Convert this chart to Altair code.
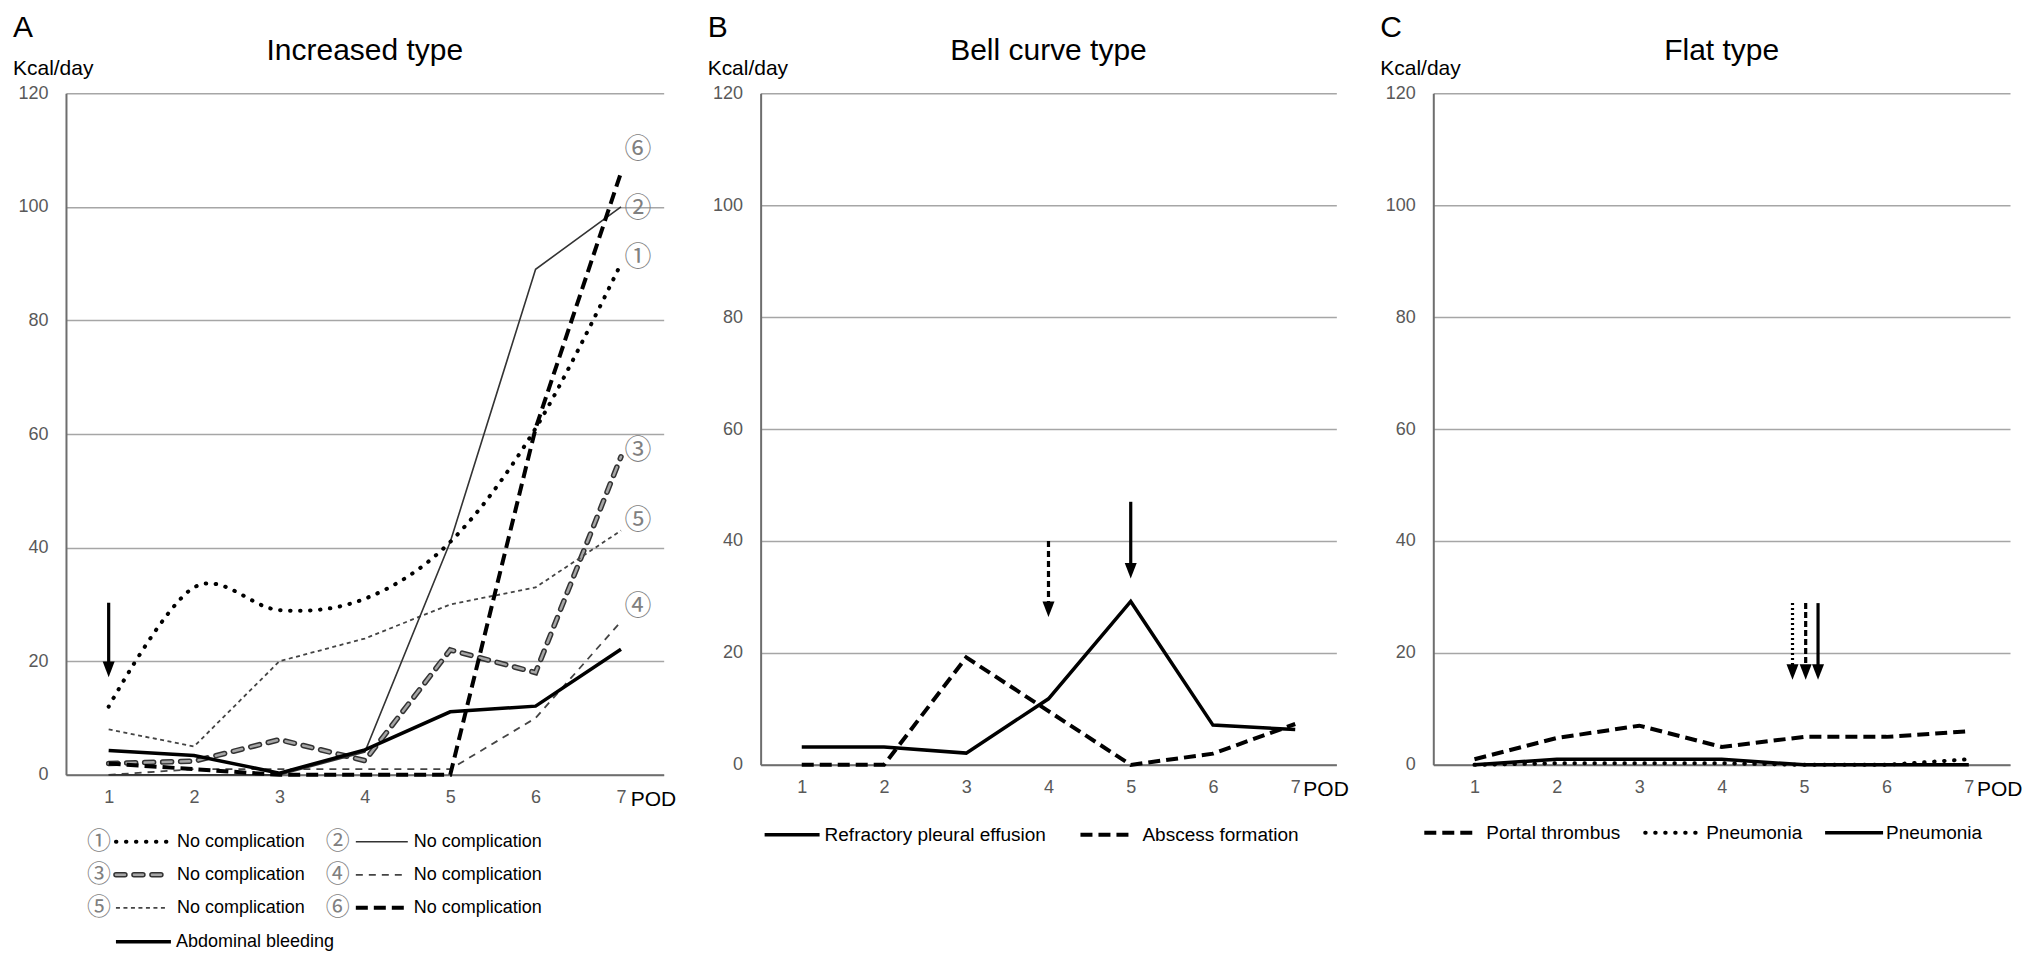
"""Post-operative calorie intake curves in three panels (increased, bell curve, flat)."""

import altair as alt
import pandas as pd


FONT = 'Liberation Sans'
CIRCLE_FONT = 'Noto Sans CJK JP'
AXIS_GREY = '#6e6e6e'
GRID_GREY = '#a6a6a6'
LABEL_GREY = '#595959'
CIRCLE_GREY = '#808080'

POD = [1, 2, 3, 4, 5, 6, 7]
Y_TICKS = [0, 20, 40, 60, 80, 100, 120]

# A - increased type
a_no1 = [12, 33, 29, 31, 41, 61, 90]
a_no2 = [0, 0, 0, 4, 41, 89, 100]
a_no3 = [2, 2.4, 6.2, 2.5, 22, 18, 56]
a_no4 = [0, 1, 1, 1, 1, 10, 27]
a_no5 = [8, 5, 20, 24, 30, 33, 43]
a_no6 = [2, 1, 0, 0, 0, 61, 106]
a_bleeding = [4.3, 3.4, 0.3, 4.4, 11.1, 12.1, 22.1]
a_circles = ['①', '②', '③', '④', '⑤', '⑥']
a_circle_y = [91, 99.6, 57, 29.6, 44.7, 110]
a_circle_x = 7.2
a_arrow_x = [1]
a_arrow_top = [30.3]
a_arrow_tip = [17.2]

# B - bell curve type
b_pleural = [3.2, 3.2, 2.1, 11.8, 29.2, 7.1, 6.3]
b_abscess = [0, 0, 19.2, 9.6, 0, 2, 7.3]
b_arrow_x = [4, 5]
b_arrow_top = [40, 47]
b_arrow_tip = [26.4, 33.3]

# C - flat type
c_portal = [1, 4.8, 7, 3.2, 5, 5, 6]
c_pneumonia_dot = [0, 0.3, 0.3, 0.3, 0, 0, 1]
c_pneumonia_solid = [0, 1, 1, 1, 0, 0, 0]
c_arrow_x = [4.86, 5.02, 5.17]
c_arrow_top = [28.9, 28.9, 28.9]
c_arrow_tip = [15.2, 15.2, 15.2]

STYLES = {
    'dot': dict(color='black', strokeWidth=4, strokeDash=[0.5, 9.5], strokeCap='round'),
    'thin': dict(color='#333333', strokeWidth=1.6),
    'grey_out': dict(color='#333333', strokeWidth=5.5, strokeDash=[9, 9], strokeCap='round'),
    'grey_in': dict(color='#a6a6a6', strokeWidth=2.5, strokeDash=[9, 9], strokeCap='round'),
    'dash': dict(color='#444444', strokeWidth=1.8, strokeDash=[7, 6]),
    'fine': dict(color='#444444', strokeWidth=1.8, strokeDash=[4, 3.5]),
    'thick_dash': dict(color='black', strokeWidth=4, strokeDash=[12, 6]),
    'solid': dict(color='black', strokeWidth=3.5),
}

ARROW_HEAD = 'M-0.5,-1.3 L0.5,-1.3 L0,0 Z'
CIRCLE_SIZE = 24


def x_enc():
    return alt.X('pod:Q', scale=alt.Scale(domain=[0.5, 7.5], nice=False, zero=False),
                 axis=alt.Axis(values=POD, format='d', grid=False, ticks=False, title=None,
                               labelFontSize=18, labelColor=LABEL_GREY, labelPadding=14,
                               labelFont=FONT, domainColor=AXIS_GREY, domainWidth=2))


def y_enc(field='kcal'):
    return alt.Y(f'{field}:Q', scale=alt.Scale(domain=[0, 120], nice=False),
                 axis=alt.Axis(values=Y_TICKS, grid=True, gridColor=GRID_GREY, gridWidth=1.5,
                               ticks=False, title=None, labelFontSize=18, labelColor=LABEL_GREY,
                               labelPadding=18, labelFont=FONT, domainColor=AXIS_GREY,
                               domainWidth=2))


def series(values, style, interpolate='linear'):
    df = pd.DataFrame({'pod': POD, 'kcal': values})
    return alt.Chart(df).mark_line(interpolate=interpolate, **STYLES[style]).encode(
        x=x_enc(), y=y_enc())


def text(label, x, y, size, align='left', font=FONT, color='black'):
    return alt.Chart(pd.DataFrame({'t': [label]})).mark_text(
        align=align, baseline='middle', fontSize=size, font=font, color=color
    ).encode(x=alt.value(x), y=alt.value(y), text='t:N')


def sample(style, x0, x1, y):
    return alt.Chart(pd.DataFrame({'t': [0]})).mark_rule(**STYLES[style]).encode(
        x=alt.value(x0), x2=alt.value(x1), y=alt.value(y))


def arrows(xs, tops, tips, dashes):
    layers = []
    for x, top, tip, dash in zip(xs, tops, tips, dashes):
        df = pd.DataFrame({'pod': [x], 'top': [top], 'tip': [tip]})
        rule_style = dict(color='black', strokeWidth=3.2)
        if dash:
            rule_style['strokeDash'] = dash
        layers.append(alt.Chart(df).mark_rule(y2Offset=-10, **rule_style).encode(
            x=x_enc(), y=y_enc('top'), y2='tip:Q'))
        layers.append(alt.Chart(df).mark_point(
            shape=ARROW_HEAD, filled=True, size=576, color='black', opacity=1
        ).encode(x=x_enc(), y=y_enc('tip')))
    return layers


def header(letter, title, width):
    return [
        text(letter, -53, -65, 30),
        text(title, width / 2, -42, 30, align='center'),
        text('Kcal/day', -53, -24, 21),
    ]


def pod_label(width, height):
    return text('POD', width - 33, height + 25, 21)


def increased_chart(width, height):
    circles = pd.DataFrame({'pod': a_circle_x, 'kcal': a_circle_y, 't': a_circles})
    layers = [
        series(a_no3, 'grey_out'),
        series(a_no3, 'grey_in'),
        series(a_no5, 'fine'),
        series(a_no4, 'dash'),
        series(a_no2, 'thin'),
        series(a_no1, 'dot', interpolate='cardinal'),
        series(a_bleeding, 'solid'),
        series(a_no6, 'thick_dash'),
        alt.Chart(circles).mark_text(fontSize=27, font=CIRCLE_FONT, color=CIRCLE_GREY).encode(
            x=x_enc(), y=y_enc(), text='t:N'),
    ]
    layers += arrows(a_arrow_x, a_arrow_top, a_arrow_tip, [None])
    layers += header('A', 'Increased type', width)
    layers.append(pod_label(width, height))

    # legend, two columns then the complication on its own row
    rows = [749, 782, 815]
    styles = [('dot', 'thin'), ('grey_out', 'dash'), ('fine', 'thick_dash')]
    for i, (row, (left, right)) in enumerate(zip(rows, styles)):
        layers.append(text(a_circles[2 * i], 33, row, CIRCLE_SIZE, align='center',
                           font=CIRCLE_FONT, color=CIRCLE_GREY))
        layers.append(sample(left, 50, 101, row))
        if left == 'grey_out':
            layers.append(sample('grey_in', 50, 101, row))
        layers.append(text('No complication', 111, row, 18))
        layers.append(text(a_circles[2 * i + 1], 272, row, CIRCLE_SIZE, align='center',
                           font=CIRCLE_FONT, color=CIRCLE_GREY))
        layers.append(sample(right, 290, 342, row))
        layers.append(text('No complication', 348, row, 18))
    layers.append(sample('solid', 50, 105, 849))
    layers.append(text('Abdominal bleeding', 110, 849, 18))

    return alt.layer(*layers).properties(width=width, height=height)


def bell_chart(width, height):
    layers = [
        series(b_abscess, 'thick_dash'),
        series(b_pleural, 'solid'),
    ]
    layers += arrows(b_arrow_x, b_arrow_top, b_arrow_tip, [[6, 4], None])
    layers += header('B', 'Bell curve type', width)
    layers.append(pod_label(width, height))
    layers += [
        sample('solid', 4, 59, 742),
        text('Refractory pleural effusion', 64, 742, 19),
        sample('thick_dash', 320, 372, 742),
        text('Abscess formation', 382, 742, 19),
    ]
    return alt.layer(*layers).properties(width=width, height=height)


def flat_chart(width, height):
    layers = [
        series(c_pneumonia_dot, 'dot'),
        series(c_pneumonia_solid, 'solid'),
        series(c_portal, 'thick_dash'),
    ]
    layers += arrows(c_arrow_x, c_arrow_top, c_arrow_tip, [[2, 3], [6, 3], None])
    layers += header('C', 'Flat type', width)
    layers.append(pod_label(width, height))
    layers += [
        sample('thick_dash', -9, 44, 740),
        text('Portal thrombus', 53, 740, 19),
        sample('dot', 212, 263, 740),
        text('Pneumonia', 273, 740, 19),
        sample('solid', 392, 450, 740),
        text('Pneumonia', 453, 740, 19),
    ]
    return alt.layer(*layers).properties(width=width, height=height)


chart = alt.hconcat(
    increased_chart(598, 682),
    bell_chart(576, 672),
    flat_chart(577, 672),
    spacing=97,
    bounds='flush',
).properties(
    padding={'left': 5, 'top': 5, 'right': 0, 'bottom': 5},
).configure_view(
    stroke=None,
)

chart.save('out.html', embed_options={'renderer': 'svg', 'actions': False})
